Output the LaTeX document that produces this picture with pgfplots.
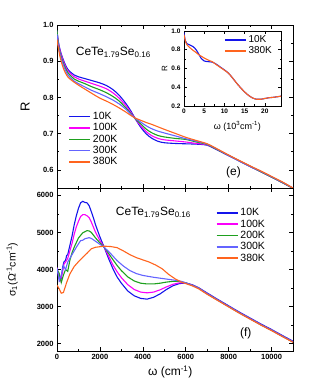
\documentclass[border=0pt]{standalone}
\usepackage{fontspec}
\setmainfont{Liberation Sans}
\usepackage{pgfplots}
\pgfplotsset{compat=1.18}
\definecolor{c10}{RGB}{20,20,235}
\definecolor{c100}{RGB}{250,0,250}
\definecolor{c200}{RGB}{30,160,30}
\definecolor{c300}{RGB}{100,100,255}
\definecolor{c380}{RGB}{255,100,30}

\pgfplotsset{
  panel/.style={
    scale only axis,
    tick align=inside,
    major tick length=4pt, minor tick length=2pt,
    tick style={black, line width=0.6pt},
    axis line style={line width=0.8pt},
    tick label style={font=\fontsize{7.5}{8}\selectfont\bfseries},
    /pgf/number format/assume math mode=true,
    /pgf/number format/set thousands separator={},
    scaled ticks=false,
    every axis plot/.append style={line width=1.1pt},
    legend style={draw=none, fill=none, font=\fontsize{10.5}{11}\selectfont,
                  row sep=-1.5pt, cells={anchor=west}},
    legend image code/.code={\draw[##1, line width=1.5pt] (0pt,0pt) -- (21pt,0pt);},
  },
}

\begin{document}
\begin{tikzpicture}
\useasboundingbox (0,0) rectangle (332pt,380pt);

% ---- top panel: reflectivity
\begin{axis}[panel,
  at={(57pt,192pt)}, anchor=south west,
  width=236pt, height=163pt,
  xmin=0, xmax=11000, ymin=0.55, ymax=1.0,
  xtick={0,2000,...,10000}, minor x tick num=1, xticklabels={},
  ytick={0.6,0.7,0.8,0.9,1.0}, minor y tick num=1,
  yticklabel style={/pgf/number format/.cd, fixed, fixed zerofill, precision=1},
  ylabel={R}, ylabel style={font=\fontsize{13}{14}\selectfont, anchor=center,
                            at={(axis description cs:-0.135,0.5)}},
  legend style={at={(axis description cs:0.035,0.49)}, anchor=north west},
]
\addplot[smooth, c10] coordinates {
 (0,0.985) (60,0.955) (150,0.930) (300,0.903) (500,0.878) (800,0.862) (1000,0.857)
 (1300,0.852) (1600,0.847) (2000,0.840) (2300,0.833) (2600,0.822) (2900,0.806)
 (3200,0.784) (3450,0.762) (3650,0.741) (3900,0.718) (4150,0.700) (4400,0.688)
 (4700,0.679) (5000,0.675) (5500,0.673) (6000,0.672) (6500,0.671) (7000,0.668)
 (7500,0.654) (8000,0.639) (8500,0.624) (9000,0.609) (9500,0.595) (10000,0.580)
 (10500,0.565) (11000,0.549)};
\addlegendentry{10K}
\addplot[smooth, c100] coordinates {
 (0,0.982) (60,0.952) (150,0.927) (300,0.899) (500,0.874) (800,0.857) (1000,0.851)
 (1300,0.845) (1600,0.839) (2000,0.831) (2300,0.824) (2600,0.813) (2900,0.798)
 (3200,0.778) (3450,0.758) (3650,0.741) (3900,0.722) (4150,0.706) (4400,0.695)
 (4700,0.687) (5000,0.683) (5500,0.680) (6000,0.677) (6500,0.673) (7000,0.669)
 (7500,0.655) (8000,0.640) (8500,0.625) (9000,0.610) (9500,0.595) (10000,0.580)
 (10500,0.565) (11000,0.549)};
\addlegendentry{100K}
\addplot[smooth, c200] coordinates {
 (0,0.985) (60,0.950) (150,0.922) (300,0.894) (500,0.869) (800,0.851) (1000,0.845)
 (1300,0.838) (1600,0.830) (2000,0.821) (2300,0.813) (2600,0.803) (2900,0.790)
 (3200,0.772) (3450,0.755) (3650,0.741) (3900,0.727) (4150,0.713) (4400,0.703)
 (4700,0.695) (5000,0.691) (5500,0.687) (6000,0.684) (6500,0.677) (7000,0.670)
 (7500,0.655) (8000,0.640) (8500,0.625) (9000,0.610) (9500,0.595) (10000,0.580)
 (10500,0.565) (11000,0.549)};
\addlegendentry{200K}
\addplot[smooth, c300] coordinates {
 (0,0.975) (60,0.945) (150,0.918) (300,0.889) (500,0.863) (800,0.845) (1000,0.838)
 (1300,0.829) (1600,0.820) (2000,0.810) (2300,0.802) (2600,0.793) (2900,0.782)
 (3200,0.768) (3450,0.753) (3650,0.742) (3900,0.732) (4150,0.722) (4400,0.714)
 (4700,0.707) (5000,0.702) (5500,0.694) (6000,0.686) (6500,0.679) (7000,0.671)
 (7500,0.656) (8000,0.640) (8500,0.625) (9000,0.610) (9500,0.596) (10000,0.581)
 (10500,0.566) (11000,0.550)};
\addlegendentry{300K}
\addplot[smooth, c380] coordinates {
 (0,0.960) (60,0.938) (150,0.910) (300,0.880) (500,0.857) (800,0.842) (1000,0.834)
 (1300,0.823) (1600,0.812) (2000,0.798) (2300,0.790) (2600,0.781) (2900,0.771)
 (3200,0.760) (3450,0.750) (3650,0.743) (3900,0.737) (4150,0.731) (4400,0.726)
 (4700,0.719) (5000,0.712) (5500,0.701) (6000,0.690) (6500,0.681) (7000,0.672)
 (7500,0.657) (8000,0.641) (8500,0.626) (9000,0.611) (9500,0.597) (10000,0.582)
 (10500,0.567) (11000,0.550)};
\addlegendentry{380K}
\node[anchor=west, font=\fontsize{12}{13}\selectfont] at (axis description cs:0.065,0.83)
  {CeTe\textsubscript{1.79}Se\textsubscript{0.16}};
\node[font=\fontsize{12}{13}\selectfont] at (axis description cs:0.748,0.095) {(e)};
\end{axis}

% ---- inset
\begin{axis}[panel,
  at={(184pt,274pt)}, anchor=south west,
  width=97pt, height=75pt,
  xmin=0, xmax=24, ymin=0.2, ymax=1.0,
  xtick={0,5,...,20}, minor x tick num=1,
  ytick={0.2,0.4,...,1.0}, minor y tick num=1,
  major tick length=3pt, minor tick length=1.5pt,
  tick label style={font=\fontsize{6.5}{7}\selectfont\bfseries},
  yticklabel style={/pgf/number format/.cd, fixed, fixed zerofill, precision=1},
  xticklabel style={yshift=1pt},
  ylabel={R}, ylabel style={font=\fontsize{8}{9}\selectfont, anchor=center,
                            at={(axis description cs:-0.2,0.5)}},
  xlabel={ω (10\textsuperscript{3}cm\textsuperscript{-1})},
  xlabel style={font=\fontsize{9}{10}\selectfont, anchor=center,
                at={(axis description cs:0.55,-0.27)}},
  legend style={at={(axis description cs:0.38,0.99)}, anchor=north west,
                font=\fontsize{10}{11}\selectfont},
]
\addplot[smooth, c10] coordinates {
 (0,0.985) (0.3,0.90) (0.7,0.865) (1.5,0.850) (2.2,0.835) (3,0.800) (3.7,0.750)
 (4.3,0.705) (5,0.680) (6,0.673) (7,0.668) (8,0.645) (9,0.615) (10,0.585) (11,0.550)
 (12,0.500) (13,0.445) (14,0.395) (15,0.350) (16,0.312) (17,0.285) (18,0.272)
 (19,0.272) (20,0.280) (21,0.288) (22,0.292) (23,0.298) (24,0.305)};
\addlegendentry{10K}
\addplot[smooth, c380] coordinates {
 (0,0.960) (0.3,0.900) (0.7,0.855) (1.5,0.820) (2.2,0.795) (3,0.770) (3.7,0.745)
 (4.3,0.730) (5,0.712) (6,0.690) (7,0.672) (8,0.641) (9,0.611) (10,0.582) (11,0.550)
 (12,0.500) (13,0.445) (14,0.395) (15,0.350) (16,0.312) (17,0.285) (18,0.272)
 (19,0.272) (20,0.280) (21,0.288) (22,0.292) (23,0.298) (24,0.305)};
\addlegendentry{380K}
\end{axis}

% ---- bottom panel: optical conductivity
\begin{axis}[panel,
  at={(57pt,29pt)}, anchor=south west,
  width=236pt, height=163pt,
  xmin=0, xmax=11000, ymin=1800, ymax=6200,
  xtick={0,2000,...,10000}, minor x tick num=1,
  ytick={2000,3000,...,6000}, minor y tick num=1,
  ylabel={σ\textsubscript{1}(Ω\textsuperscript{-1}cm\textsuperscript{-1})},
  ylabel style={font=\fontsize{10.5}{11}\selectfont, anchor=center,
                at={(axis description cs:-0.19,0.5)}},
  xlabel={ω (cm\textsuperscript{-1})},
  xlabel style={font=\fontsize{12}{13}\selectfont, anchor=center,
                at={(axis description cs:0.48,-0.13)}},
  legend style={at={(axis description cs:0.66,0.9)}, anchor=north west},
]
\addplot[c10] coordinates {
 (0,4000) (60,3900) (130,3700) (200,3760) (260,4050) (320,4200) (400,4250) (450,4380)
 (500,4400) (600,4650) (700,4900) (800,5200) (900,5450) (1000,5650) (1100,5800)
 (1200,5840) (1300,5810) (1400,5800) (1500,5720) (1600,5560) (1700,5390) (1800,5200)
 (1900,5040) (2000,4880) (2200,4600) (2400,4300) (2600,4030) (2800,3800) (3000,3630)
 (3300,3420) (3600,3290) (3900,3220) (4200,3200) (4500,3250) (4800,3340) (5100,3460)
 (5400,3560) (5700,3620) (6000,3635) (6300,3590) (6600,3510) (7000,3365) (7500,3190)
 (8000,3020) (8500,2850) (9000,2690) (9500,2530) (10000,2380) (10500,2220) (11000,2065)};
\addlegendentry{10K}
\addplot[c100] coordinates {
 (0,4050) (100,3800) (150,3700) (250,3900) (330,4150) (400,4200) (500,4300) (600,4500)
 (700,4700) (800,4950) (900,5150) (1000,5300) (1100,5430) (1200,5480) (1300,5480)
 (1400,5450) (1500,5400) (1600,5280) (1800,5000) (2000,4780) (2200,4600) (2400,4370)
 (2600,4130) (2800,3940) (3000,3780) (3300,3590) (3600,3460) (3900,3390) (4200,3370)
 (4500,3390) (4800,3450) (5100,3530) (5400,3600) (5700,3640) (6000,3640) (6300,3580)
 (6600,3500) (7000,3350) (7500,3175) (8000,3005) (8500,2835) (9000,2675) (9500,2515)
 (10000,2365) (10500,2205) (11000,2050)};
\addlegendentry{100K}
\addplot[c200] coordinates {
 (0,4000) (100,3900) (200,3650) (300,3850) (400,4000) (500,3950) (600,4250) (700,4450)
 (800,4600) (1000,4850) (1200,4990) (1400,5050) (1500,5040) (1600,5000) (1800,4850)
 (2000,4720) (2200,4600) (2400,4440) (2600,4270) (2800,4110) (3000,3970) (3300,3800)
 (3600,3690) (3900,3630) (4200,3610) (4500,3610) (4800,3630) (5100,3660) (5400,3680)
 (5700,3680) (6000,3640) (6300,3575) (6600,3495) (7000,3345) (7500,3170) (8000,3000)
 (8500,2830) (9000,2670) (9500,2510) (10000,2360) (10500,2200) (11000,2045)};
\addlegendentry{200K}
\addplot[c300] coordinates {
 (0,4050) (100,3700) (200,3850) (300,4100) (400,4000) (500,4200) (700,4400) (900,4600)
 (1100,4780) (1200,4790) (1300,4830) (1500,4860) (1600,4840) (1700,4800) (1900,4720)
 (2200,4600) (2500,4430) (2800,4240) (3100,4090) (3400,3970) (3700,3890) (4000,3840)
 (4500,3790) (5000,3750) (5500,3710) (5800,3680) (6000,3640) (6300,3575) (6600,3495)
 (7000,3345) (7500,3170) (8000,3000) (8500,2830) (9000,2670) (9500,2510) (10000,2360)
 (10500,2200) (11000,2045)};
\addlegendentry{300K}
\addplot[c380] coordinates {
 (0,3580) (100,3480) (200,3360) (300,3380) (450,3650) (600,3880) (800,4080) (1000,4210)
 (1200,4330) (1400,4440) (1600,4560) (1800,4600) (2200,4630) (2500,4620) (2800,4590)
 (3100,4500) (3400,4400) (3700,4320) (4000,4260) (4300,4200) (4600,4120) (4900,4020)
 (5200,3870) (5500,3750) (5800,3660) (6000,3620) (6300,3560) (6600,3480) (7000,3330)
 (7500,3160) (8000,2990) (8500,2820) (9000,2660) (9500,2500) (10000,2350) (10500,2190)
 (11000,2035)};
\addlegendentry{380K}
\node[anchor=west, font=\fontsize{12}{13}\selectfont] at (axis description cs:0.235,0.85)
  {CeTe\textsubscript{1.79}Se\textsubscript{0.16}};
\node[font=\fontsize{12}{13}\selectfont] at (axis description cs:0.8,0.11) {(f)};
\end{axis}
\end{tikzpicture}
\end{document}
